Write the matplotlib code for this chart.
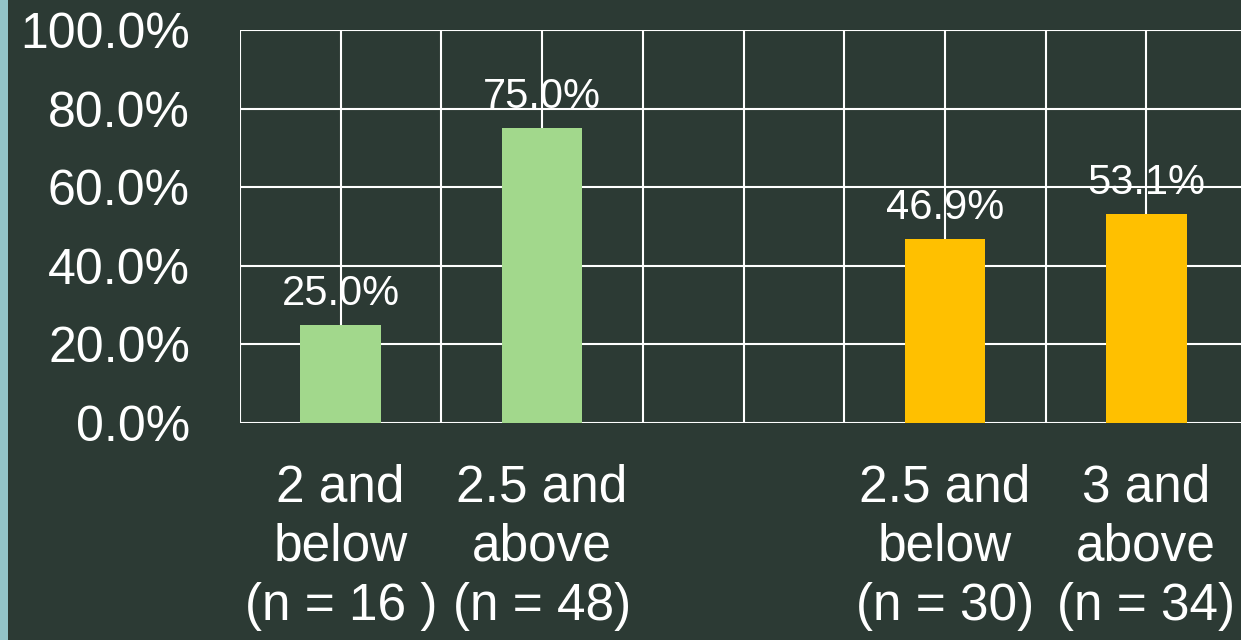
import matplotlib.pyplot as plt
from matplotlib.patches import Rectangle

categories = ["2 and\nbelow\n(n = 16 )", "2.5 and\nabove\n(n = 48)", "",
              "2.5 and\nbelow\n(n = 30)", "3 and\nabove\n(n = 34)"]
values = [25.0, 75.0, None, 46.9, 53.1]
colors = ["#a2d88c", "#a2d88c", None, "#ffc000", "#ffc000"]
yticks = [0, 20, 40, 60, 80, 100]

bg = "#2c3a34"
plt.rcParams["font.family"] = ["Liberation Sans", "DejaVu Sans"]

fig = plt.figure(figsize=(12.41, 6.40), dpi=100, facecolor=bg)
fig.patches.append(Rectangle((0, 0), 8 / 1241, 1, transform=fig.transFigure,
                             facecolor="#93c4c8", edgecolor="none"))
ax = fig.add_axes([240 / 1241, 217 / 640, 1007 / 1241, 393 / 640])
ax.set_facecolor(bg)

x = list(range(len(categories)))
for i, v in enumerate(values):
    if v is None:
        continue
    ax.bar(i, v, width=0.4, color=colors[i], zorder=3)
    ax.annotate(f"{v:.1f}%", (i, v), xytext=(0, 8), textcoords="offset points",
                ha="center", va="bottom", color="white", fontsize=30, zorder=4)

ax.set_xlim(-0.5, len(categories) - 0.5)
ax.set_ylim(0, 100)
ax.set_yticks(yticks)
ax.set_yticklabels([f"{t:.1f}%" for t in yticks])
ax.set_xticks(x)
ax.set_xticklabels(categories, linespacing=1.27)
ax.set_xticks([i - 0.5 for i in range(len(categories) + 1)], minor=True)

ax.grid(True, which="both", axis="x", color="white", linewidth=1.5, zorder=0)
ax.grid(True, which="major", axis="y", color="white", linewidth=1.5, zorder=0)
ax.tick_params(axis="both", which="both", length=0, colors="white")
ax.tick_params(axis="y", labelsize=36, pad=36)
ax.tick_params(axis="x", labelsize=37, pad=29)
for s in ax.spines.values():
    s.set_visible(False)

fig.savefig("out.png", dpi=100, facecolor=bg)
